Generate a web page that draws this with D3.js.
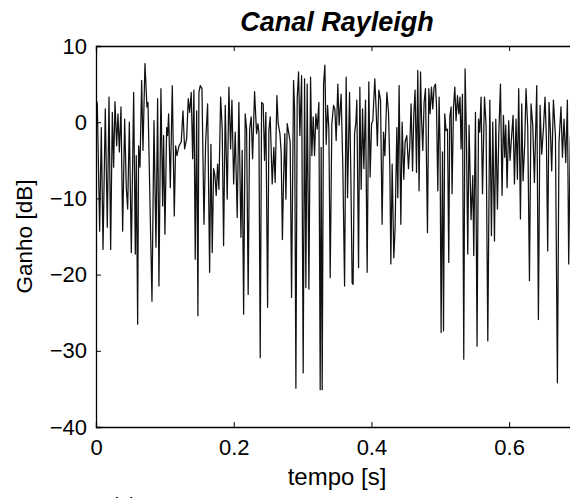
<!DOCTYPE html>
<html>
<head>
<meta charset="utf-8">
<script src="https://cdn.jsdelivr.net/npm/d3@7"></script>
<style>
  body { margin: 0; background: #fff; }
  svg { display: block; font-family: "Liberation Sans", Arial, sans-serif; }
</style>
</head>
<body>
<svg id="chart"></svg>
<script>
// tamanho da janela
var w = 570;
var h = 498;

// eixos
var xTicks = [0, 0.2, 0.4, 0.6];
var yTicks = [10, 0, -10, -20, -30, -40];
var xLim = [0, 0.7];
var yLim = [-40, 10];

// sinal: tempo [s] e ganho [dB]
var tempo = [
  0.0000, 0.0019, 0.0053, 0.0077, 0.0102, 0.0135, 0.0164, 0.0189, 0.0213, 0.0237,
  0.0256, 0.0276, 0.0300, 0.0319, 0.0339, 0.0363, 0.0387, 0.0416, 0.0440, 0.0460,
  0.0484, 0.0513, 0.0547, 0.0571, 0.0585, 0.0605, 0.0619, 0.0639, 0.0663, 0.0682,
  0.0711, 0.0740, 0.0755, 0.0813, 0.0842, 0.0871, 0.0895, 0.0914, 0.0943, 0.0968,
  0.0982, 0.1001, 0.1026, 0.1040, 0.1055, 0.1079, 0.1108, 0.1137, 0.1156, 0.1176,
  0.1205, 0.1238, 0.1263, 0.1287, 0.1316, 0.1340, 0.1360, 0.1383, 0.1404, 0.1422,
  0.1441, 0.1462, 0.1480, 0.1495, 0.1514, 0.1539, 0.1568, 0.1592, 0.1621, 0.1650,
  0.1669, 0.1688, 0.1708, 0.1727, 0.1746, 0.1766, 0.1785, 0.1810, 0.1833, 0.1853,
  0.1877, 0.1906, 0.1930, 0.1955, 0.1974, 0.1999, 0.2022, 0.2051, 0.2075, 0.2105,
  0.2123, 0.2144, 0.2167, 0.2187, 0.2210, 0.2231, 0.2254, 0.2274, 0.2303, 0.2332,
  0.2351, 0.2366, 0.2385, 0.2405, 0.2428, 0.2448, 0.2467, 0.2492, 0.2511, 0.2530,
  0.2559, 0.2583, 0.2602, 0.2627, 0.2646, 0.2671, 0.2689, 0.2707, 0.2724, 0.2742,
  0.2758, 0.2777, 0.2797, 0.2820, 0.2840, 0.2869, 0.2884, 0.2903, 0.2922, 0.2942,
  0.2961, 0.2986, 0.3009, 0.3029, 0.3048, 0.3067, 0.3092, 0.3116, 0.3135, 0.3154,
  0.3174, 0.3193, 0.3212, 0.3237, 0.3256, 0.3270, 0.3285, 0.3305, 0.3324, 0.3343,
  0.3363, 0.3382, 0.3401, 0.3425, 0.3450, 0.3469, 0.3488, 0.3512, 0.3531, 0.3560,
  0.3585, 0.3610, 0.3633, 0.3653, 0.3682, 0.3701, 0.3720, 0.3734, 0.3755, 0.3774,
  0.3788, 0.3813, 0.3832, 0.3851, 0.3871, 0.3890, 0.3914, 0.3938, 0.3962, 0.3981,
  0.4002, 0.4020, 0.4049, 0.4068, 0.4086, 0.4108, 0.4132, 0.4155, 0.4176, 0.4195,
  0.4224, 0.4248, 0.4267, 0.4282, 0.4301, 0.4325, 0.4344, 0.4369, 0.4383, 0.4402,
  0.4427, 0.4446, 0.4470, 0.4489, 0.4514, 0.4538, 0.4557, 0.4576, 0.4597, 0.4615,
  0.4634, 0.4655, 0.4673, 0.4692, 0.4713, 0.4727, 0.4746, 0.4765, 0.4785, 0.4814,
  0.4833, 0.4852, 0.4872, 0.4891, 0.4910, 0.4930, 0.4945, 0.4964, 0.4983, 0.4997,
  0.5012, 0.5032, 0.5047, 0.5065, 0.5084, 0.5105, 0.5123, 0.5138, 0.5157, 0.5171,
  0.5192, 0.5211, 0.5229, 0.5250, 0.5269, 0.5287, 0.5302, 0.5322, 0.5341, 0.5360,
  0.5380, 0.5399, 0.5418, 0.5447, 0.5472, 0.5486, 0.5511, 0.5534, 0.5555, 0.5573,
  0.5592, 0.5613, 0.5642, 0.5665, 0.5690, 0.5719, 0.5743, 0.5762, 0.5787, 0.5806,
  0.5830, 0.5849, 0.5874, 0.5897, 0.5917, 0.5936, 0.5951, 0.5970, 0.5994, 0.6013,
  0.6033, 0.6057, 0.6077, 0.6100, 0.6120, 0.6139, 0.6164, 0.6183, 0.6202, 0.6226,
  0.6245, 0.6270, 0.6295, 0.6318, 0.6343, 0.6367, 0.6401, 0.6425, 0.6449, 0.6473,
  0.6498, 0.6521, 0.6541, 0.6560, 0.6579, 0.6600, 0.6618, 0.6643, 0.6672, 0.6701,
  0.6724, 0.6753, 0.6774, 0.6797, 0.6822, 0.6846, 0.6865, 0.6887, 0.6909
];
var ganho = [
  3.1, 2.4, -14.3, -0.7, -16.7, 1.75, -13.8, 3.3, -16.7, 1.3,
  -5.9, 2.7, -3.1, 1.1, -3.9, 2.0, -14.3, 0.4, -8.6, -11.4,
  0, -17.1, 3.9, -17.3, -4.4, -26.5, -3.1, -5.9, 5.5, -3.7,
  7.7, 2.0, 2.6, -23.5, 0.2, -16.4, 3.1, -21.5, 4.4, -11.0,
  -1.75, -14.7, -0.7, -1.75, 1.1, -8.6, 4.8, -12.3, -3.1, -4.4,
  -3.1, -2.6, 1.5, -3.5, -2.2, 3.1, 1.3, 3.9, -4.8, 4.2,
  -18.0, 1.5, -25.4, 3.9, 4.8, 4.4, -13.4, -2.6, 2.4, -19.7,
  -2.9, -17.1, -6.1, -7.0, -9.6, -5.5, -8.8, 3.3, -0.9, -16.2,
  2.2, -10.1, 4.6, -3.5, 2.9, -8.1, -1.3, -12.5, 2.6, -15.1,
  -3.7, -25.2, 1.1, -0.9, -22.6, -0.9, 0.7, -4.8, 4.0, -1.5,
  -0.2, -1.3, -30.9, 2.6, 2.4, -5.0, 1.3, -24.3, -1.1, 0.7,
  -8.1, -3.3, -7.9, 3.5, -0.2, -1.5, -3.9, -15.4, -7.5, -1.5,
  -10.1, -0.2, -1.3, -2.6, -23.0, 5.5, 1.75, -34.9, 3.1, 6.6,
  -1.75, 6.1, -32.9, 5.7, -21.7, 5.0, -21.9, 5.9, -4.4, 0.7,
  -4.4, 1.1, -0.9, 2.6, -35.1, -3.3, -35.1, 5.0, 7.5, -2.9,
  2.2, -0.9, -20.4, -0.2, 2.2, 1.75, -2.4, 5.0, -0.4, 3.7,
  -6.1, -21.5, 5.9, -9.9, 3.9, -7.0, -21.1, -21.3, -1.5, 0,
  2.9, -19.1, 4.6, -8.8, 1.75, -6.1, 2.9, -19.7, 5.3, -7.2,
  -0.2, 0.2, 5.7, 1.75, -3.1, 4.2, 2.9, -13.4, -1.3, -4.4,
  3.9, 1.3, -5.7, -18.6, -5.5, -17.8, -13.8, -0.7, -9.9, 4.8,
  -13.4, 0, -7.5, -2.6, -1.75, -6.1, -3.1, 2.4, -6.4, 0.9,
  4.2, -6.6, 6.8, -9.0, 6.6, 0.7, -3.7, 2.6, 4.4, -14.5,
  4.4, 1.1, 4.6, 1.75, 4.6, 5.0, 2.2, -9.0, 3.3, -3.5,
  -27.6, -3.9, -27.4, 1.1, -1.1, -0.9, -18.4, 0.7, 2.0, -9.4,
  2.0, 4.6, 0.2, 3.5, 1.1, 3.3, -3.5, 3.7, -31.1, 7.0,
  -2.0, -17.3, -0.4, -12.8, -7.0, -17.5, 1.3, -29.4, 0.4, -1.3,
  3.3, -9.4, 3.3, -0.4, -28.7, 2.9, -14.9, 0, -15.6, 0.4,
  -11.4, -1.75, 5.0, -9.6, 0.9, -4.6, -0.4, -8.6, 0.2, -5.0,
  -2.2, 0.9, -8.1, 0.4, -7.5, 4.4, -12.7, 2.4, -7.7, -2.9,
  4.4, -0.7, -20.8, 2.4, -0.4, -7.9, 4.8, -25.9, 2.2, -4.2,
  -0.9, 3.3, -2.2, -16.9, 2.6, -1.3, -6.4, 2.9, -1.75, -34.2,
  -2.6, 2.0, -4.6, 0.4, -5.3, 2.9, -18.6, -2.6, 1.5
];

var margin = { top: 46, left: 96, bottom: 71 };
var plotW = 482;   // a borda direita fica fora da janela
var plotH = h - margin.top - margin.bottom;

var svg = d3.select("#chart")
  .attr("width", w)
  .attr("height", h);

var x = d3.scaleLinear().domain(xLim).range([margin.left, margin.left + plotW]);
var y = d3.scaleLinear().domain(yLim).range([margin.top + plotH, margin.top]);

var fmt = function (v) { return v < 0 ? "\u2212" + Math.abs(v) : String(v); };

var dados = tempo.map(function (t, i) { return { t: t, g: ganho[i] }; });

var linha = d3.line()
  .x(function (d) { return x(d.t); })
  .y(function (d) { return y(d.g); });

svg.append("clipPath").attr("id", "clip")
  .append("rect")
  .attr("x", margin.left).attr("y", margin.top)
  .attr("width", plotW).attr("height", plotH);

svg.append("path")
  .datum(dados)
  .attr("clip-path", "url(#clip)")
  .attr("d", linha)
  .attr("fill", "none")
  .attr("stroke", "#111")
  .attr("stroke-width", 1.25)
  .attr("stroke-linejoin", "round");

// eixos no estilo MATLAB: ticks para dentro, caixa em volta
var tick = 5;
var eixoBaixo = d3.axisBottom(x).tickValues(xTicks).tickSize(-tick).tickPadding(12).tickFormat(fmt);
var eixoTopo = d3.axisTop(x).tickValues(xTicks).tickSize(-tick).tickFormat("");
var eixoEsq = d3.axisLeft(y).tickValues(yTicks).tickSize(-tick).tickPadding(9).tickFormat(fmt);

var gB = svg.append("g").attr("transform", "translate(0," + (margin.top + plotH) + ")").call(eixoBaixo);
var gT = svg.append("g").attr("transform", "translate(0," + margin.top + ")").call(eixoTopo);
var gL = svg.append("g").attr("transform", "translate(" + margin.left + ",0)").call(eixoEsq);

[gB, gT, gL].forEach(function (g) {
  g.select(".domain").attr("stroke", "#000").attr("stroke-width", 1.3);
  g.selectAll(".tick line").attr("stroke", "#000").attr("stroke-width", 1);
  g.selectAll("text").attr("fill", "#000").style("font-size", "22px")
    .style("font-family", "'Liberation Sans', Arial, sans-serif");
});

svg.append("text")
  .attr("x", margin.left + plotW / 2)
  .attr("y", 31)
  .attr("text-anchor", "middle")
  .style("font-size", "27px")
  .style("font-weight", "bold")
  .style("font-style", "italic")
  .text("Canal Rayleigh");

svg.append("text")
  .attr("x", margin.left + plotW / 2)
  .attr("y", 485)
  .attr("text-anchor", "middle")
  .style("font-size", "24px")
  .text("tempo [s]");

svg.append("text")
  .attr("transform", "translate(32," + (margin.top + plotH / 2) + ") rotate(-90)")
  .attr("text-anchor", "middle")
  .style("font-size", "22.5px")
  .text("Ganho [dB]");

// legenda da subfigura, cortada na borda de baixo
svg.append("text")
  .attr("x", 124)
  .attr("y", 512)
  .attr("text-anchor", "middle")
  .style("font-size", "21px")
  .text("(a)");
</script>
</body>
</html>
